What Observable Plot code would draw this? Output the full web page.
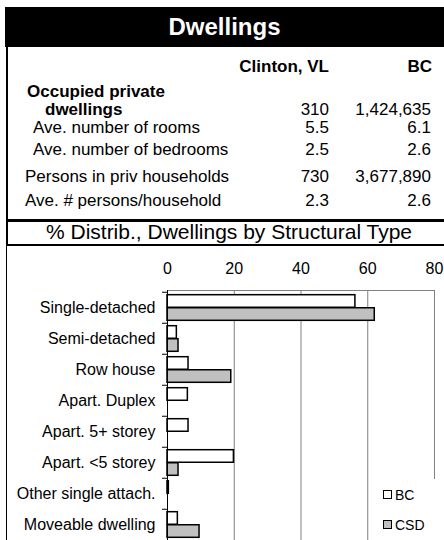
<!DOCTYPE html>
<html><head><meta charset="utf-8">
<script src="https://cdn.jsdelivr.net/npm/d3@7"></script>
<script src="https://cdn.jsdelivr.net/npm/@observablehq/plot@0.6"></script>
<style>
html,body{margin:0;padding:0;background:#fff;}
#root{position:relative;width:444px;height:540px;overflow:hidden;font-family:"Liberation Sans",Arial,sans-serif;color:#000;}
.abs{position:absolute;white-space:nowrap;}
</style></head><body><div id="root"></div>
<script>
// ---- data ----
const titleText = "Dwellings";
const tableColumns = ["Clinton, VL", "BC"];
const rowLabels = ["Occupied private\ndwellings", "Ave. number of rooms", "Ave. number of bedrooms", "Persons in priv households", "Ave. # persons/household"];
const clintonValues = ["310", "5.5", "2.5", "730", "2.3"];
const bcTableValues = ["1,424,635", "6.1", "2.6", "3,677,890", "2.6"];
const chartTitle = "% Distrib., Dwellings by Structural Type";
const categories = ["Single-detached", "Semi-detached", "Row house", "Apart. Duplex", "Apart. 5+ storey", "Apart. <5 storey", "Other single attach.", "Moveable dwelling"];
const bcValues = [56.3, 2.8, 6.3, 6.1, 6.3, 19.9, 0.4, 3.1];
const csdValues = [62.1, 3.3, 19.1, 0, 0, 3.3, 0, 9.6];
const seriesNames = ["BC", "CSD"];
const xTicks = [0, 20, 40, 60, 80];

// ---- layout ----
const root = document.getElementById("root");
function add(html, css) {
  const d = document.createElement("div");
  d.className = "abs";
  d.style.cssText = css;
  d.textContent = html;
  root.appendChild(d);
  return d;
}
// title
add(titleText, "left:5px;top:7px;width:439px;height:40px;background:#000;color:#fff;font-weight:bold;font-size:24px;line-height:40px;text-align:center;");
// left border
add("", "left:6px;top:47px;width:2px;height:198px;background:#000;");
add("", "left:6px;top:245px;width:1px;height:295px;background:#000;");
// header
const colRight = [444 - 329, 444 - 432];
tableColumns.forEach((c, i) => add(c, `right:${colRight[i]}px;top:57px;font-weight:bold;font-size:17px;line-height:20px;`));
// rows
const rowCenters = [110, 128, 150, 177, 201];
const rowX = [27, 33, 33, 25, 25];
rowLabels.forEach((lab, i) => {
  const lines = lab.split("\n");
  if (lines.length === 2) {
    add(lines[0], `left:${rowX[i]}px;top:${rowCenters[i] - 28}px;font-weight:bold;font-size:17px;line-height:20px;`);
    add(lines[1], `left:${rowX[i] + 18}px;top:${rowCenters[i] - 10}px;font-weight:bold;font-size:17px;line-height:20px;`);
  } else {
    add(lines[0], `left:${rowX[i]}px;top:${rowCenters[i] - 10}px;font-size:17px;line-height:20px;`);
  }
  add(clintonValues[i], `right:${colRight[0]}px;top:${rowCenters[i] - 10}px;font-size:17px;line-height:20px;`);
  add(bcTableValues[i], `right:${colRight[1] + 1}px;top:${rowCenters[i] - 10}px;font-size:17px;line-height:20px;`);
});
// lines & chart title
add("", "left:6px;top:219px;width:438px;height:3px;background:#000;");
add(chartTitle, "left:6px;top:220px;width:446px;text-align:center;font-size:21px;line-height:24px;");
add("", "left:6px;top:244px;width:438px;height:1.5px;background:#000;");

// ---- chart ----
const H = 297, MT = 45, MB = 0;
const bw = (H - MT - MB) / categories.length;
const rows = categories.map((c, i) => ({category: c, BC: bcValues[i], CSD: csdValues[i]}));
const chart = Plot.plot({
  width: 444, height: H, marginTop: MT, marginBottom: MB, marginLeft: 167, marginRight: 10,
  style: {fontFamily: '"Liberation Sans", Arial, sans-serif', fontSize: "16px", color: "#000", background: "transparent"},
  x: {domain: [0, 80], label: null},
  y: {domain: categories, padding: 0, label: null},
  marks: [
    Plot.frame({stroke: "#808080"}),
    Plot.ruleX(xTicks.slice(1), {stroke: "#808080"}),
    Plot.barX(rows, {x: seriesNames[0], y: "category", fill: "#fff", stroke: "#000", strokeWidth: 1.5, insetTop: 2.7, insetBottom: bw / 2}),
    Plot.barX(rows, {x: seriesNames[1], y: "category", fill: "#c0c0c0", stroke: "#000", strokeWidth: 1.5, insetTop: bw / 2, insetBottom: 2.7}),
    Plot.ruleX([0], {stroke: "#000"}),
    Plot.axisX({anchor: "top", ticks: xTicks, tickSize: 0, tickPadding: 17, label: null}),
    Plot.axisY({tickSize: 0, tickPadding: 12, label: null}),
    Plot.axisY({tickSize: 5, tickFormat: () => "", dy: -bw / 2, label: null, stroke: "#000"})
  ]
});
chart.style.position = "absolute";
chart.style.left = "0px";
chart.style.top = "245px";
root.appendChild(chart);

// ---- legend ----
const leg = document.createElement("div");
leg.className = "abs";
leg.style.cssText = "left:375px;top:479px;width:69px;height:61px;background:#fff;";
root.appendChild(leg);
const swFill = ["#fff", "#c0c0c0"];
const legCenters = [495, 525];
seriesNames.forEach((s, i) => {
  add("", `left:383px;top:${legCenters[i] - 5}px;width:7px;height:7px;border:1.5px solid #000;background:${swFill[i]};`);
  add(s, `left:395px;top:${legCenters[i] - 9}px;font-size:14px;line-height:18px;`);
});
</script></body></html>
